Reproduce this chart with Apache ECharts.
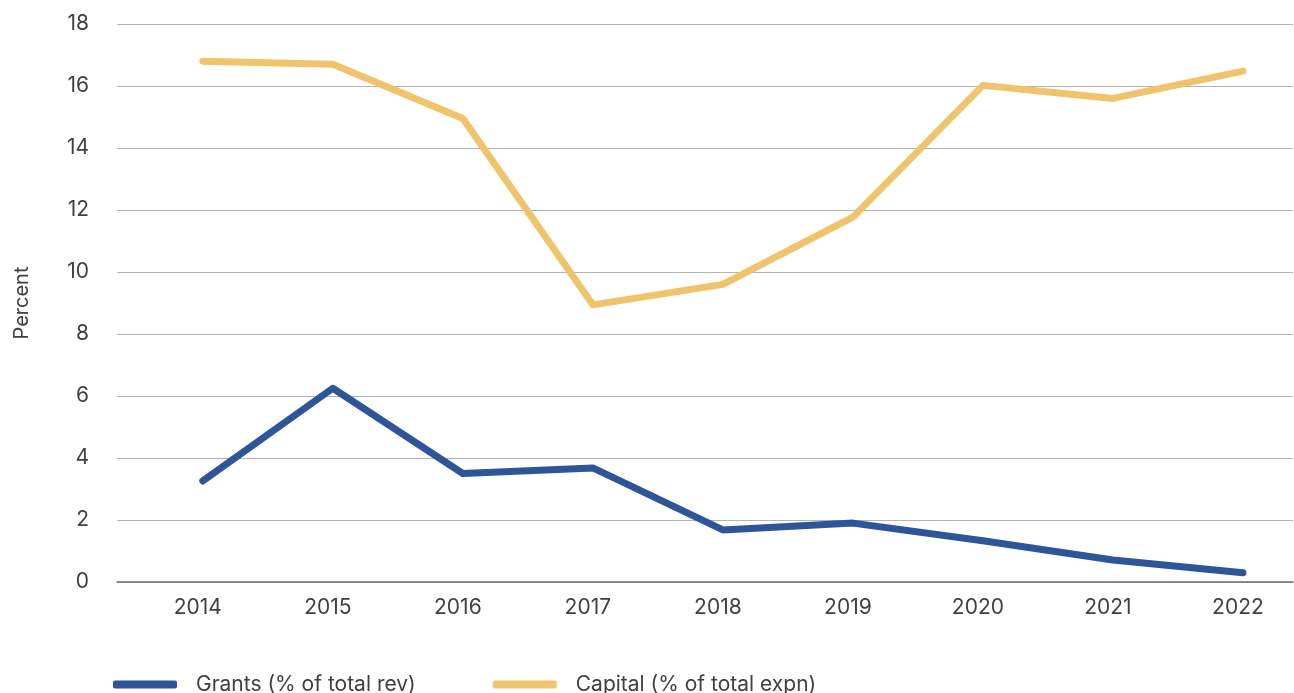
<!DOCTYPE html>
<html>
<head>
<meta charset="utf-8">
<script src="https://cdn.jsdelivr.net/npm/echarts@6/dist/echarts.min.js"></script>
<style>
  html, body { margin: 0; padding: 0; background: #fff; }
  #chart { width: 1294px; height: 693px; }
</style>
</head>
<body>
<div id="chart"></div>
<script>
const years = [2014, 2015, 2016, 2017, 2018, 2019, 2020, 2021, 2022];
const grants = [3.26, 6.25, 3.5, 3.68, 1.68, 1.9, 1.33, 0.71, 0.3];
const capital = [16.8, 16.7, 14.95, 8.94, 9.6, 11.77, 16.02, 15.6, 16.48];

const chart = echarts.init(document.getElementById('chart'));

const font = 'Inter, "Noto Sans", sans-serif';

const option = {
  animation: false,
  textStyle: { fontFamily: font },
  grid: { left: 117, right: 1, top: 24, bottom: 111 },
  legend: {
    left: 108,
    top: 669,
    itemWidth: 64,
    itemHeight: 8,
    itemGap: 77,
    icon: 'roundRect',
    textStyle: { fontSize: 21, color: '#404040', padding: [0, 0, 0, 14], fontFamily: font },
    data: ['Grants (% of total rev)', 'Capital (% of total expn)']
  },
  xAxis: {
    type: 'value',
    min: 2013.34,
    max: 2022.385,
    axisLine: { show: true, lineStyle: { color: '#6e6e6e', width: 1.5 } },
    axisTick: { show: false },
    splitLine: { show: false },
    axisLabel: {
      customValues: years,
      fontSize: 21,
      color: '#404040',
      margin: 15,
      padding: [0, 10, 0, 0],
      formatter: v => String(v)
    }
  },
  yAxis: {
    type: 'value',
    min: 0,
    max: 18,
    interval: 2,
    name: 'Percent',
    nameLocation: 'middle',
    nameGap: 85,
    nameRotate: 90,
    nameTextStyle: { fontSize: 20, color: '#404040' },
    axisLine: { show: false },
    axisTick: { show: false },
    axisLabel: { fontSize: 21, color: '#404040', margin: 28 },
    splitLine: { lineStyle: { color: '#b4b4b4', width: 1 } }
  },
  series: [
    {
      name: 'Grants (% of total rev)',
      type: 'line',
      data: years.map((y, i) => [y, grants[i]]),
      showSymbol: false,
      color: '#2E5597',
      lineStyle: { width: 7, cap: 'round', join: 'round' }
    },
    {
      name: 'Capital (% of total expn)',
      type: 'line',
      data: years.map((y, i) => [y, capital[i]]),
      showSymbol: false,
      color: '#F0C46C',
      lineStyle: { width: 7, cap: 'round', join: 'round' }
    }
  ]
};

chart.setOption(option);
</script>
</body>
</html>
